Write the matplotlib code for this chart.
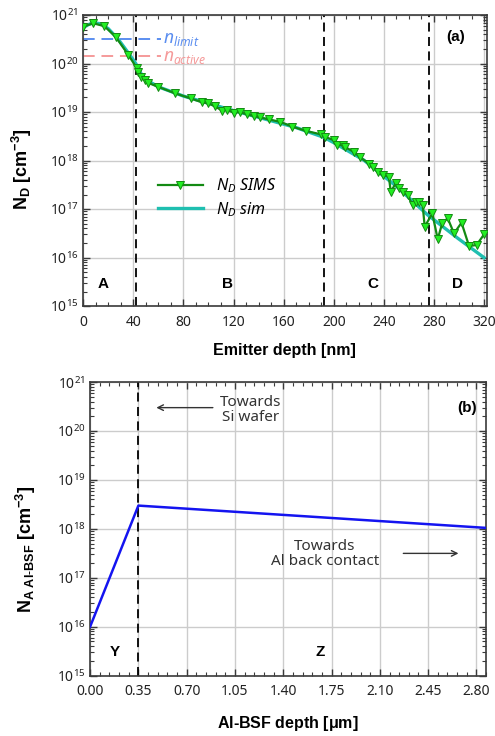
import matplotlib
matplotlib.use("Agg")
import matplotlib.pyplot as plt
import numpy as np
from matplotlib.ticker import FixedLocator, MultipleLocator, LogLocator, FuncFormatter, NullFormatter

plt.rcParams['font.family'] = ['Noto Sans', 'DejaVu Sans']
plt.rcParams['mathtext.fontset'] = 'custom'
plt.rcParams['mathtext.rm'] = 'Noto Sans'
plt.rcParams['mathtext.it'] = 'Noto Sans:italic'
plt.rcParams['mathtext.bf'] = 'Liberation Sans:bold'

BOLD = 'Liberation Sans'

# ---------------- data: panel (a) ----------------
sims_depth = [0, 8, 17, 26, 36, 43, 44, 46.5, 49, 52, 60, 73, 86, 95, 100, 105, 111, 115, 120,
              125, 131, 136, 141, 148, 157, 167, 178, 190, 193, 200, 203, 207, 209, 216, 221,
              228, 231, 235, 239, 244, 245.5, 249.5, 252, 255, 259, 263, 265.5, 268, 271,
              272.6, 278.7, 283, 286.7, 291, 296, 302, 308, 314, 320]
sims_log = [20.76, 20.83, 20.77, 20.55, 20.18, 19.90, 19.83, 19.73, 19.66, 19.60, 19.52, 19.39,
            19.28, 19.20, 19.18, 19.12, 19.03, 19.04, 18.99, 19.00, 18.95, 18.92, 18.89, 18.85,
            18.80, 18.70, 18.61, 18.54, 18.49, 18.42, 18.32, 18.32, 18.28, 18.18, 18.07, 17.94,
            17.87, 17.77, 17.70, 17.67, 17.36, 17.53, 17.43, 17.36, 17.29, 17.08, 17.15, 17.15,
            17.08, 16.64, 16.91, 16.38, 16.72, 16.81, 16.50, 16.72, 16.24, 16.26, 16.48]
sim_depth = [0, 4, 8, 14, 20, 28, 36, 42, 46, 50, 60, 80, 100, 120, 146, 170, 192, 200, 224,
             250, 275, 299, 320]
sim_log = [20.74, 20.80, 20.84, 20.82, 20.72, 20.50, 20.22, 20.00, 19.80, 19.67, 19.52, 19.33,
           19.18, 19.03, 18.85, 18.68, 18.48, 18.37, 18.01, 17.47, 16.88, 16.40, 16.00]
n_limit = 3.2e20
n_active = 1.43e20
region_bounds_a = [42, 192.5, 276]
region_labels_a = ['A', 'B', 'C', 'D']
region_label_x_a = [16, 115, 231, 299]
xticks_a = [0, 40, 80, 120, 160, 200, 240, 280, 320]

# ---------------- data: panel (b) ----------------
bsf_depth = [0.0, 0.35, 2.87]
bsf_conc = [1e16, 3e18, 1.05e18]
region_bound_b = 0.35
region_labels_b = ['Y', 'Z']
region_label_x_b = [0.18, 1.667]
xticks_b = [0.00, 0.35, 0.70, 1.05, 1.40, 1.75, 2.10, 2.45, 2.80]

sims_conc = [10 ** v for v in sims_log]
sim_conc = [10 ** v for v in sim_log]

fig = plt.figure(figsize=(4.95, 7.36), dpi=100)
ax1 = fig.add_axes([0.168, 0.584, 0.815, 0.3956])
ax2 = fig.add_axes([0.182, 0.082, 0.800, 0.3987])

spine_col = '#3a3a3a'
grid_col = '#cccccc'
tick_fs = 10

def sup_fmt(v, pos):
    e = int(round(np.log10(v)))
    return r'$\mathregular{10^{%d}}$' % e

def style_axis(ax):
    ax.set_yscale('log')
    ax.set_ylim(1e15, 1e21)
    ax.yaxis.set_major_locator(LogLocator(base=10, numticks=10))
    ax.yaxis.set_minor_locator(LogLocator(base=10, subs=np.arange(2, 10), numticks=20))
    ax.yaxis.set_major_formatter(FuncFormatter(sup_fmt))
    ax.yaxis.set_minor_formatter(NullFormatter())
    ax.grid(True, which='major', color=grid_col, linewidth=1.0, zorder=0)
    ax.set_axisbelow(True)
    for s in ax.spines.values():
        s.set_color(spine_col)
        s.set_linewidth(1.2)
    ax.tick_params(which='both', direction='in', top=True, right=True, colors=spine_col,
                   labelcolor='#222222', labelsize=tick_fs)
    ax.tick_params(which='major', length=5, width=1.0)
    ax.tick_params(which='minor', length=3, width=0.8)
    ax.tick_params(axis='x', which='major', pad=6)

# ---------- panel (a) ----------
style_axis(ax1)
ax1.set_xlim(0, 322)
ax1.xaxis.set_major_locator(FixedLocator(xticks_a))
ax1.xaxis.set_minor_locator(MultipleLocator(10))

ax1.plot(sim_depth, sim_conc, color='#1fbfb0', linewidth=2.4, zorder=3,
         label=r'$\mathregular{N_D}$ sim')
ax1.plot(sims_depth, sims_conc, color='#138a13', linewidth=1.6, marker='v',
         markersize=5.2, markerfacecolor='#22ee22', markeredgecolor='#138a13',
         markeredgewidth=0.7, zorder=4, label=r'$\mathregular{N_D}$ SIMS')

for xb in region_bounds_a:
    ax1.axvline(xb, color='black', linestyle=(0, (5, 3)), linewidth=1.3, zorder=2)

ax1.plot([0, 62], [n_limit, n_limit], color='#5b8ef0', linestyle=(0, (6, 3.5)), linewidth=1.4, zorder=2)
ax1.plot([0, 62], [n_active, n_active], color='#f59a9a', linestyle=(0, (6, 3.5)), linewidth=1.4, zorder=2)
ax1.text(64, n_limit, r'$n_{limit}$', color='#5b8ef0', fontsize=12.5, va='center', ha='left')
ax1.text(64, n_active * 0.95, r'$n_{active}$', color='#f59a9a', fontsize=12.5, va='center', ha='left')

for lab, xl in zip(region_labels_a, region_label_x_a):
    ax1.text(xl, 10 ** 15.45, lab, fontsize=11, fontweight='bold', family=BOLD,
             ha='center', va='center')
ax1.text(297, 10 ** 20.55, '(a)', fontsize=11, fontweight='bold', family=BOLD,
         ha='center', va='center')

h, l = ax1.get_legend_handles_labels()
leg = ax1.legend([h[1], h[0]], [l[1], l[0]], loc='center left', bbox_to_anchor=(0.15, 0.373),
                 frameon=False, handlelength=2.8, labelspacing=0.3,
                 prop={'style': 'italic', 'size': 11.5})

ax1.set_xlabel('Emitter depth [nm]', fontsize=11.5, fontweight='bold', family=BOLD, labelpad=10)
ax1.set_ylabel(r'$\mathbf{N_D}$ [cm$^{\mathbf{-3}}$]', fontsize=13, fontweight='bold',
               family=BOLD)
ax1.yaxis.set_label_coords(-0.123, 0.47)

# ---------- panel (b) ----------
style_axis(ax2)
ax2.set_xlim(0, 2.87)
ax2.xaxis.set_major_locator(FixedLocator(xticks_b))
ax2.xaxis.set_minor_locator(MultipleLocator(0.07))
ax2.xaxis.set_major_formatter(FuncFormatter(lambda v, p: '%.2f' % v))

ax2.plot(bsf_depth, bsf_conc, color='#1414f0', linewidth=1.8, zorder=3)
ax2.axvline(region_bound_b, color='black', linestyle=(0, (5, 3)), linewidth=1.3, zorder=2)

ax2.text(1.16, 10 ** 20.43, 'Towards\nSi wafer', fontsize=11, ha='center', va='center',
         color='#333333', linespacing=1.05)
ax2.annotate('', xy=(0.46, 10 ** 20.48), xytext=(0.91, 10 ** 20.48),
             arrowprops=dict(arrowstyle='->', color='#333333', lw=1.0))
ax2.text(1.70, 10 ** 17.49, 'Towards\nAl back contact', fontsize=11, ha='center', va='center',
         color='#333333', linespacing=1.05)
ax2.annotate('', xy=(2.69, 10 ** 17.50), xytext=(2.25, 10 ** 17.50),
             arrowprops=dict(arrowstyle='->', color='#333333', lw=1.0))

for lab, xl in zip(region_labels_b, region_label_x_b):
    ax2.text(xl, 10 ** 15.49, lab, fontsize=11, fontweight='bold', family=BOLD,
             ha='center', va='center')
ax2.text(2.73, 10 ** 20.47, '(b)', fontsize=11, fontweight='bold', family=BOLD,
         ha='center', va='center')

ax2.set_xlabel(r'Al-BSF depth [$\mathbf{\mu}$m]', fontsize=11.5, fontweight='bold',
               family=BOLD, labelpad=11)
ax2.set_ylabel(r'$\mathbf{N_{A\ Al\text{-}BSF}}$ [cm$^{\mathbf{-3}}$]', fontsize=13,
               fontweight='bold', family=BOLD)
ax2.yaxis.set_label_coords(-0.131, 0.43)

fig.savefig('out.png', dpi=100)
